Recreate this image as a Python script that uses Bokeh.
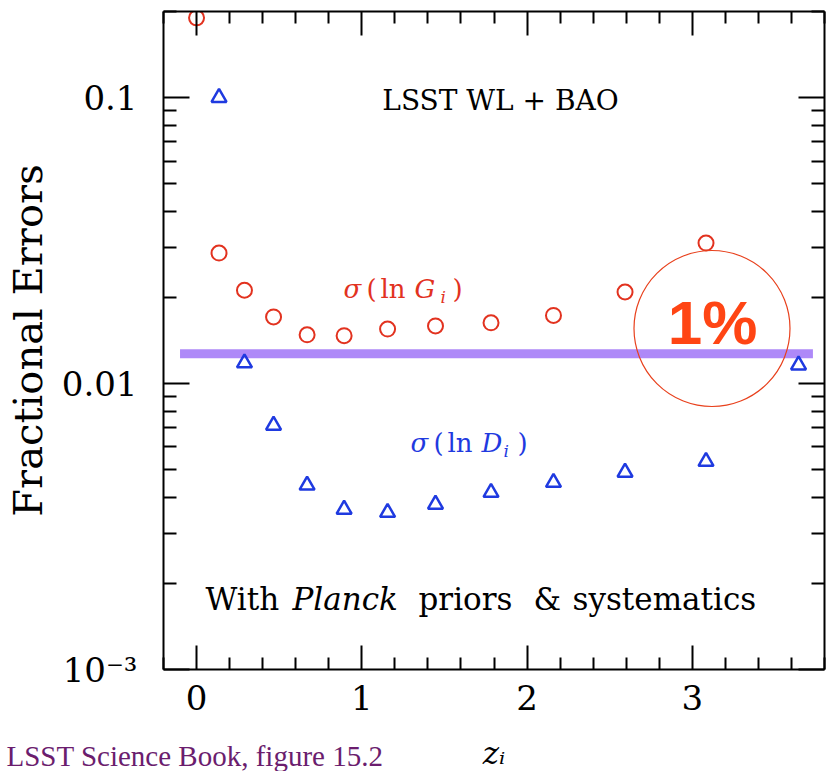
import math
from bokeh.plotting import figure
from bokeh.models import LinearAxis, LogAxis, FixedTicker, Label, Range1d, Title
from bokeh.embed import file_html
from bokeh.resources import INLINE

# ---------------- data ----------------
z_G = [0.0, 0.136, 0.29, 0.466, 0.669, 0.893, 1.156, 1.446, 1.782, 2.160, 2.593, 3.083]
sigma_lnG = [0.190, 0.0286, 0.0212, 0.0171, 0.0148, 0.0147, 0.0155, 0.0159, 0.0163, 0.0173, 0.0209, 0.0310]
z_D = [0.136, 0.29, 0.466, 0.669, 0.893, 1.156, 1.446, 1.782, 2.160, 2.593, 3.083, 3.643]
sigma_lnD = [0.100, 0.0118, 0.00714, 0.00441, 0.00363, 0.00354, 0.00378, 0.00416, 0.00451, 0.00489, 0.00534, 0.0116]
one_percent_level = [0.0127]
one_percent_z0 = [-0.10]
one_percent_z1 = [3.73]

x_major_ticks = [0, 1, 2, 3]
x_minor_ticks = [-0.2, 0.2, 0.4, 0.6, 0.8, 1.2, 1.4, 1.6, 1.8, 2.2, 2.4, 2.6, 2.8, 3.2, 3.4, 3.6, 3.8]
y_major_ticks = [0.001, 0.01, 0.1]
y_minor_ticks = [0.002, 0.003, 0.004, 0.005, 0.006, 0.007, 0.008, 0.009,
                 0.02, 0.03, 0.04, 0.05, 0.06, 0.07, 0.08, 0.09, 0.2]
y_tick_labels = {0.001: "10⁻³", 0.01: "0.01", 0.1: "0.1"}
x_tick_labels = {0: "0", 1: "1", 2: "2", 3: "3"}
x_title = "zᵢ"
y_title = "Fractional Errors"
caption = "LSST Science Book, figure 15.2"

# ---------------- layout ----------------
W, H = 827, 771
FL, FR, FT, FB = 163, 824, 11, 669
XMIN, XMAX = -0.2, 3.8
YMIN, YMAX = 0.001, 0.2

def X(px):
    return XMIN + (px - FL) / (FR - FL) * (XMAX - XMIN)

def Y(py):
    lt, lb = math.log10(YMAX), math.log10(YMIN)
    return 10 ** (lt - (py - FT) / (FB - FT) * (lt - lb))

p = figure(width=W, height=H, y_axis_type="log",
           x_range=Range1d(XMIN, XMAX), y_range=Range1d(YMIN, YMAX),
           output_backend="svg", toolbar_location=None,
           min_border_left=FL, min_border_right=W - FR,
           min_border_top=FT, min_border_bottom=H - FB,
           y_axis_label=y_title)
p.grid.visible = False
p.outline_line_color = None
p.background_fill_color = "white"
p.border_fill_color = "white"

SERIF = "DejaVu Serif"

def style_axis(ax, tin, tmin):
    ax.axis_line_width = 2
    ax.axis_line_color = "black"
    ax.major_tick_in = tin
    ax.major_tick_out = 0
    ax.minor_tick_in = tmin
    ax.minor_tick_out = 0
    ax.major_tick_line_width = 2
    ax.minor_tick_line_width = 2
    ax.major_tick_line_color = "black"
    ax.minor_tick_line_color = "black"
    ax.major_label_text_font = SERIF
    ax.major_label_text_color = "black"
    ax.major_label_text_font_size = "34px"

xa = p.xaxis[0]
xa.ticker = FixedTicker(ticks=x_major_ticks, minor_ticks=x_minor_ticks)
xa.major_label_overrides = x_tick_labels
style_axis(xa, 24, 12)
xa.major_label_standoff = 15

ya = p.yaxis[0]
ya.ticker = FixedTicker(ticks=y_major_ticks, minor_ticks=y_minor_ticks)
ya.major_label_overrides = y_tick_labels
style_axis(ya, 26, 13)
ya.major_label_standoff = 26
ya.axis_label_text_font = SERIF
ya.axis_label_text_font_size = "40px"
ya.axis_label_text_font_style = "normal"
ya.axis_label_text_color = "black"
ya.axis_label_standoff = 8

# mirrored tick axes (no labels) on top and right
top = LinearAxis(ticker=FixedTicker(ticks=x_major_ticks, minor_ticks=x_minor_ticks))
style_axis(top, 24, 12)
top.major_label_overrides = {t: "" for t in x_major_ticks}
top.major_label_text_font_size = "1px"
top.major_label_standoff = 0
p.add_layout(top, "above")

right = LogAxis(ticker=FixedTicker(ticks=y_major_ticks, minor_ticks=y_minor_ticks))
style_axis(right, 26, 13)
right.major_label_overrides = {t: "" for t in y_major_ticks}
right.major_label_text_font_size = "1px"
right.major_label_standoff = 0
p.add_layout(right, "right")

# ---------------- marks ----------------
RED = "#e2321f"
BLUE = "#1f3ae0"

p.segment(x0=one_percent_z0, x1=one_percent_z1, y0=one_percent_level, y1=one_percent_level,
          line_color="#9a6cf6", line_width=9, line_alpha=0.8)

p.scatter(z_G, sigma_lnG, marker="circle", size=15, fill_color=None,
          line_color=RED, line_width=2)
p.scatter(z_D, sigma_lnD, marker="triangle", size=15, fill_color=None,
          line_color=BLUE, line_width=2.5)

# highlight ring around the 1% annotation
p.scatter([X(711.5)], [Y(328)], marker="circle", size=156, fill_color=None,
          line_color="#e8401c", line_width=1.2)

# ---------------- texts ----------------
def txt(px, py, text, size, color="black", style="normal", font=SERIF, align="left"):
    p.add_layout(Label(x=X(px), y=Y(py), text=text, text_font=font,
                       text_font_size=f"{size}px", text_color=color,
                       text_font_style=style, text_align=align,
                       text_baseline="alphabetic"))

txt(500, 100, "LSST WL + BAO", 28, align="center")

for px, word, st in [(205, "With", "normal"), (292, "Planck", "italic"),
                     (418, "priors", "normal"), (533, "&", "normal"),
                     (572, "systematics", "normal")]:
    txt(px, 598, word, 31, style=st)

# sigma(ln G_i)
for px, dy, t, s, st in [(343, 0, "σ", 26, "italic"), (366, 0, "(", 26, "normal"),
                         (380, 0, "ln", 26, "normal"), (414, 0, "G", 26, "italic"),
                         (440, 8, "i", 17, "italic"), (452, 0, ")", 26, "normal")]:
    txt(px, 288 + dy, t, s, color=RED, style=st)

# sigma(ln D_i)
for px, dy, t, s, st in [(410, 0, "σ", 26, "italic"), (433, 0, "(", 26, "normal"),
                         (447, 0, "ln", 26, "normal"), (481, 0, "D", 26, "italic"),
                         (503, 8, "i", 17, "italic"), (517, 0, ")", 26, "normal")]:
    txt(px, 442 + dy, t, s, color=BLUE, style=st)

txt(712, 322, "1%", 62, color="#ff4514", style="bold", font="Liberation Sans", align="center")

# caption: a Label in the bottom side panel (not clipped), positioned by data coords
p.add_layout(Label(x=X(6), y=Y(755), text=caption,
                   text_font="Liberation Serif", text_font_size="29px",
                   text_color="#6b1d6e", text_align="left",
                   text_baseline="alphabetic"), "below")

# x-axis title as a compact Title stacked after the caption panel
p.add_layout(Title(text=x_title, align="center", vertical_align="middle",
                   standoff=-22, text_font=SERIF, text_font_size="31px",
                   text_font_style="italic", text_color="black"), "below")

open("out.html", "w").write(file_html(p, INLINE))
